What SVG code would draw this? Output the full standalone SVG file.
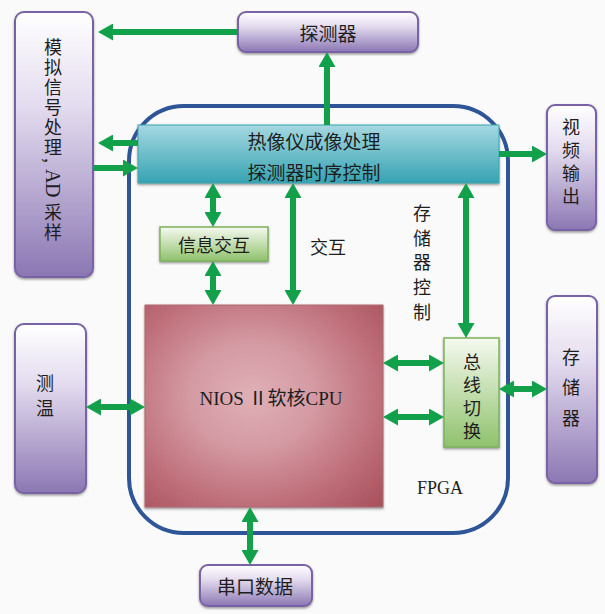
<svg xmlns="http://www.w3.org/2000/svg" width="605" height="614" viewBox="0 0 605 614">
<defs>
<linearGradient id="gPurple" x1="0" y1="0" x2="0" y2="1">
<stop offset="0" stop-color="#ffffff"/>
<stop offset="0.35" stop-color="#e4dcef"/>
<stop offset="1" stop-color="#8b77b3"/>
</linearGradient>
<linearGradient id="gCyan" x1="0" y1="0" x2="0" y2="1">
<stop offset="0" stop-color="#a5d8e1"/>
<stop offset="1" stop-color="#36a3b3"/>
</linearGradient>
<linearGradient id="gGreen" x1="0" y1="0" x2="0" y2="1">
<stop offset="0" stop-color="#f6f9f0"/>
<stop offset="1" stop-color="#8fc26c"/>
</linearGradient>
<radialGradient id="gRed" cx="0.45" cy="0.45" r="0.75">
<stop offset="0" stop-color="#e0b0b7"/>
<stop offset="0.35" stop-color="#d49aa3"/>
<stop offset="0.7" stop-color="#bf707b"/>
<stop offset="1" stop-color="#a9535f"/>
</radialGradient>
<marker id="ah" markerUnits="userSpaceOnUse" viewBox="0 0 15 17" markerWidth="15" markerHeight="17" refX="5" refY="8.5" orient="auto-start-reverse">
<path d="M0,0 L15,8.5 L0,17 z" fill="#13a04b"/>
</marker>
<filter id="sh" x="-10%" y="-10%" width="120%" height="120%">
<feDropShadow dx="0" dy="1.5" stdDeviation="0.8" flood-color="#555" flood-opacity="0.6"/>
</filter>
</defs>
<style>
.pbox{fill:url(#gPurple);stroke:#7a62a6;stroke-width:2;filter:url(#sh)}
.gbox{fill:url(#gGreen);stroke:#7db35c;stroke-width:1.5;filter:url(#sh)}
.cj{font-family:"Noto Sans CJK SC","Noto Sans CJK TC",sans-serif;font-size:18px;fill:#1e1e1e;text-anchor:middle;dominant-baseline:central}
.v{font-family:"Noto Sans CJK SC","Noto Sans CJK TC",sans-serif;font-size:18px;fill:#1e1e1e;writing-mode:vertical-rl;text-anchor:start}
.lat{font-family:"Liberation Serif","Noto Sans CJK SC",serif;font-size:19px;fill:#1e1e1e;text-anchor:middle;dominant-baseline:central}
.arr{fill:none;stroke:#13a04b;stroke-width:6;marker-end:url(#ah)}
.dbl{fill:none;stroke:#13a04b;stroke-width:6;marker-start:url(#ah);marker-end:url(#ah)}
</style>
<rect x="0" y="0" width="605" height="614" fill="#fafafa"/>

<g id="fpga">
<path d="M184,106 H453 A55,55 0 0 1 508,161 V478 A55,55 0 0 1 453,533 H184 A55,55 0 0 1 129,478 V161 A55,55 0 0 1 184,106 Z" fill="none" stroke="#2e5597" stroke-width="4"/>
<text class="lat" x="440" y="488" style="font-size:18px">FPGA</text>
</g>

<g id="analog">
<rect class="pbox" x="15" y="12" width="78" height="265" rx="9"/>
<text class="v" x="53" y="38" style="letter-spacing:2px">模拟信号处理<tspan style="letter-spacing:6px">,</tspan><tspan style="font-family:'Liberation Serif',serif;font-size:20px;letter-spacing:0">A</tspan><tspan style="font-family:'Liberation Serif',serif;font-size:20px;letter-spacing:5px">D</tspan>采样</text>
</g>

<g id="detector">
<rect class="pbox" x="238" y="12" width="180" height="40" rx="8"/>
<text class="cj" x="328" y="32" style="font-size:19px">探测器</text>
</g>

<g id="video">
<rect class="pbox" x="547" y="105" width="49" height="125" rx="8"/>
<text class="v" x="571" y="118" style="letter-spacing:5px">视频输出</text>
</g>

<g id="memory">
<rect class="pbox" x="547" y="296" width="50" height="187" rx="8"/>
<text class="v" x="571" y="348" style="letter-spacing:12.5px">存储器</text>
</g>

<g id="temp">
<rect class="pbox" x="15" y="324" width="71" height="169" rx="9"/>
<text class="v" x="45" y="374" style="letter-spacing:7px">测温</text>
</g>

<g id="serial">
<rect class="pbox" x="200" y="565" width="112" height="41" rx="8"/>
<text class="cj" x="255" y="585" style="font-size:19px">串口数据</text>
</g>

<g id="imaging">
<rect x="138" y="125" width="361" height="58" fill="url(#gCyan)" stroke="#3aa5b2" stroke-width="1" filter="url(#sh)"/>
<text class="cj" x="314" y="140" style="font-size:19px">热像仪成像处理</text>
<text class="cj" x="314" y="171" style="font-size:19px">探测器时序控制</text>
</g>

<g id="info">
<rect class="gbox" x="160" y="227" width="108" height="34"/>
<text class="cj" x="214" y="244">信息交互</text>
</g>

<g id="cpu">
<rect x="145" y="305" width="238" height="202" fill="url(#gRed)" stroke="#b26a74" stroke-width="1" filter="url(#sh)"/>
<text class="lat" x="271" y="398">NIOS Ⅱ软核CPU</text>
</g>

<g id="busswitch">
<rect class="gbox" x="444" y="338" width="55" height="109"/>
<text class="v" x="472" y="353" style="letter-spacing:5px">总线切换</text>
</g>

<g id="labels">
<text class="cj" x="328" y="246">交互</text>
<text class="v" x="422" y="204" style="letter-spacing:6.75px">存储器控制</text>
</g>

<g id="connectors">
<path class="arr" d="M238,32 H108"/>
<path class="arr" d="M327,125 V62"/>
<path class="arr" d="M138,143 H108"/>
<path class="arr" d="M93,168 H128"/>
<path class="arr" d="M499,154 H537"/>
<path class="dbl" d="M213,193 V217"/>
<path class="dbl" d="M213,271 V295"/>
<path class="dbl" d="M293,193 V295"/>
<path class="dbl" d="M466,193 V328"/>
<path class="dbl" d="M96,407 H135"/>
<path class="dbl" d="M393,363 H434"/>
<path class="dbl" d="M393,417 H434"/>
<path class="dbl" d="M509,389 H537"/>
<path class="dbl" d="M250,517 V555"/>
</g>
</svg>
